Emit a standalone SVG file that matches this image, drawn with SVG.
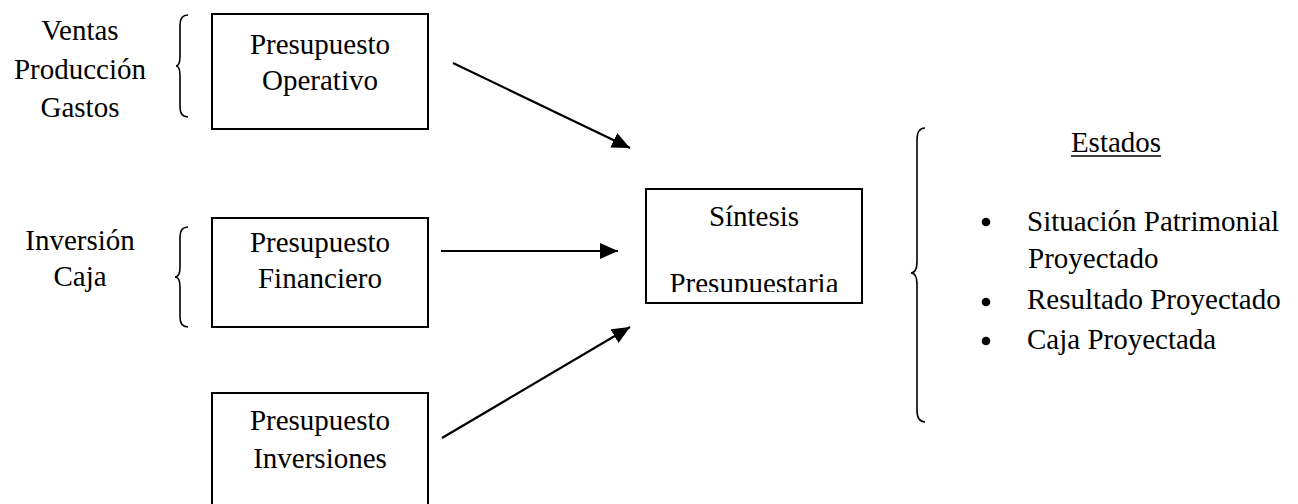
<svg xmlns="http://www.w3.org/2000/svg" width="1298" height="504" viewBox="0 0 1298 504">
<style>
text{font-family:"Liberation Serif","Times New Roman",serif;font-size:29px;fill:#000}
.c{text-anchor:middle}
.box{fill:#fff;stroke:#000;stroke-width:2}
.br{fill:none;stroke:#000;stroke-width:1.6}
.ln{stroke:#000;stroke-width:2.2;fill:none}
</style>
<defs>
<marker id="ah" markerUnits="userSpaceOnUse" markerWidth="20" markerHeight="16" refX="18" refY="8" orient="auto">
<path d="M0,0 L18,8 L0,16 Z" fill="#000"/>
</marker>
<clipPath id="sclip"><rect x="646" y="190" width="216" height="102"/></clipPath>
</defs>
<g id="labels-operativo">
<text class="c" x="80" y="40">Ventas</text>
<text class="c" x="80" y="79">Producción</text>
<text class="c" x="80" y="117">Gastos</text>
<path class="br" d="M188,15 Q180,15 180,25 L180,56 Q180,66 176,66 Q180,66 180,76 L180,107 Q180,117 188,117"/>
</g>
<g id="n-operativo">
<rect class="box" x="212" y="14" width="216" height="115"/>
<text class="c" x="320" y="54">Presupuesto</text>
<text class="c" x="320" y="90">Operativo</text>
</g>
<g id="labels-financiero">
<text class="c" x="80" y="250">Inversión</text>
<text class="c" x="80" y="286">Caja</text>
<path class="br" d="M188,227 Q180,227 180,237 L180,267 Q180,277 175,277 Q180,277 180,287 L180,317 Q180,327 188,327"/>
</g>
<g id="n-financiero">
<rect class="box" x="212" y="218" width="216" height="109"/>
<text class="c" x="320" y="252">Presupuesto</text>
<text class="c" x="320" y="288">Financiero</text>
</g>
<g id="n-inversiones">
<rect class="box" x="212" y="393" width="216" height="120"/>
<text class="c" x="320" y="430">Presupuesto</text>
<text class="c" x="320" y="468">Inversiones</text>
</g>
<g id="n-sintesis">
<rect class="box" x="646" y="189" width="216" height="114"/>
<text class="c" x="754" y="226">Síntesis</text>
<text class="c" x="754" y="293" clip-path="url(#sclip)">Presupuestaria</text>
</g>
<g id="n-estados">
<path class="br" d="M925,128 Q917,128 917,140 L917,261 Q917,273 911,273 Q917,273 917,285 L917,410 Q917,422 925,422"/>
<text class="c" x="1116" y="152">Estados</text>
<line x1="1071" y1="156" x2="1161" y2="156" stroke="#000" stroke-width="1.5"/>
<circle cx="986" cy="222" r="4.3"/>
<circle cx="986" cy="302" r="4.3"/>
<circle cx="986" cy="341" r="4.3"/>
<text x="1027" y="231">Situación Patrimonial</text>
<text x="1028" y="268">Proyectado</text>
<text x="1027" y="309">Resultado Proyectado</text>
<text x="1027" y="349">Caja Proyectada</text>
</g>
<g id="connectors">
<line class="ln" x1="453" y1="63" x2="630" y2="148" marker-end="url(#ah)"/>
<line class="ln" x1="441" y1="251" x2="618" y2="251" marker-end="url(#ah)"/>
<line class="ln" x1="442" y1="438" x2="630" y2="327" marker-end="url(#ah)"/>
</g>
</svg>
